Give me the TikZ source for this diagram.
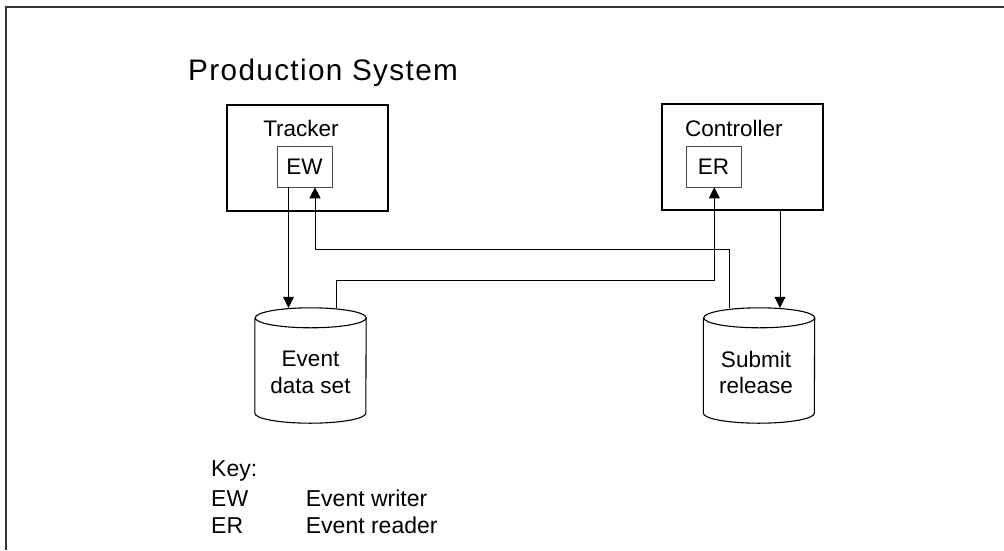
\documentclass[tikz,border=0pt]{standalone}
\usepackage{fontspec}
\setmainfont{Liberation Sans}
\usetikzlibrary{positioning}
\usetikzlibrary{arrows.meta}

\tikzset{
	unit/.style = {draw = black, line width = 1.2pt, minimum width = 161pt, minimum height = 106pt, inner sep = 0pt},
	rw/.style = {draw = black!70, line width = 0.6pt, minimum width = 55pt, minimum height = 41pt, inner sep = 0pt, font = \fontsize{22.5}{26}\selectfont},
	unitlbl/.style = {inner sep = 0pt, font = \fontsize{22.5}{26}\selectfont},
	store/.style = {inner sep = 0pt, minimum width = 111pt, minimum height = 115pt},
	storeline/.style = {black, line width = 1.1pt},
	storelbl/.style = {inner sep = 0pt, align = center, font = \fontsize{22.5}{26.3}\selectfont},
	keytxt/.style = {inner sep = 0pt, font = \fontsize{23}{26}\selectfont},
	flow/.style = {black, line width = 0.7pt, -{Triangle[length = 11pt, width = 11pt]}}
}

\begin{document}
\begin{tikzpicture}[x = 1pt, y = -1pt]
					\useasboundingbox (0, 0) rectangle (1004, 550);
					\draw [black!80, line width = 1.4pt] (6, 550) -- (6, 7) -- (1004, 7);
					\node [inner sep = 0pt, anchor = base west, font = \fontsize{29.7}{34}\selectfont\addfontfeature{LetterSpace = 4.6}] (title) at (188, 80.5) {Production System};
					% units
					\node [unit] (tracker) at (307.5, 158) {};
					\node [unitlbl, anchor = base] (trackerlbl) at (301, 136) {Tracker};
					\node [rw] (ew) at (304.5, 166.5) {EW};
					\node [unit] (ctrl) at (742.5, 157) {};
					\node [unitlbl, anchor = base west] (ctrllbl) at (685, 136) {Controller};
					\node [rw] (er) at (713.5, 166.5) {ER};
					% data stores
					\node [store] (events) at (310.5, 365.5) {};
					\node [storelbl, yshift = -7pt] (eventslbl) at (events) {Event\\data set};
					\node [store] (submit) at (759, 365.5) {};
					\node [storelbl, xshift = -3pt, yshift = -7pt] (submitlbl) at (submit) {Submit\\release};
					\foreach \s in {events, submit} {
						\draw [storeline] ([yshift = -10pt]\s.north west) -- ([yshift = 10pt]\s.south west)
							arc [start angle = 180, end angle = 360, x radius = 55.5pt, y radius = 10pt]
							-- ([yshift = -10pt]\s.north east)
							arc [start angle = 0, end angle = 360, x radius = 55.5pt, y radius = 10pt];
					}
					% connectors
					\coordinate (upper) at (0, 249);
					\coordinate (lower) at (0, 280);
					\draw [flow] ([xshift = -16pt]ew.south) -- ([xshift = -16pt]ew.south |- events.north);
					\draw [flow] ([xshift = -30pt]submit.north) -- ([xshift = -30pt]submit.north |- upper) -| ([xshift = 10.5pt]ew.south);
					\draw [flow] ([xshift = 26pt]events.north) -- ([xshift = 26pt]events.north |- lower) -| ([xshift = 0.8pt]er.south);
					\draw [flow] ([xshift = 37.5pt]ctrl.south) -- ([xshift = 37.5pt]ctrl.south |- submit.north);
					% key
					\node [keytxt, anchor = base west] (key) at (211, 476.7) {Key:};
					\node [keytxt, anchor = base west] (keyew) at (211, 506) {EW};
					\node [keytxt, anchor = base west] (keyewtxt) at (305.7, 506) {Event writer};
					\node [keytxt, anchor = base west] (keyer) at (211, 533) {ER};
					\node [keytxt, anchor = base west] (keyertxt) at (305.7, 533) {Event reader};
				\end{tikzpicture}
\end{document}
